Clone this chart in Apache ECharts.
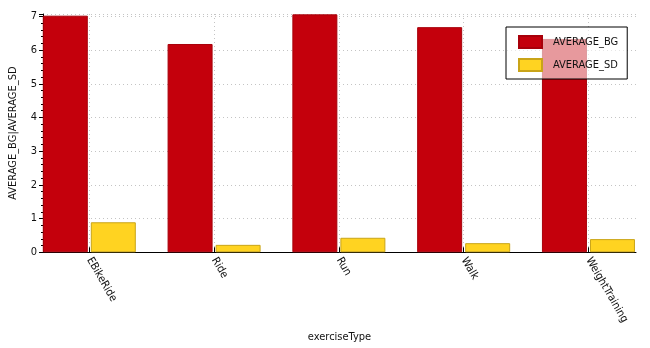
<!DOCTYPE html>
<html>
<head>
<meta charset="utf-8">
<script src="https://cdn.jsdelivr.net/npm/echarts@6/dist/echarts.min.js"></script>
<style>html,body{margin:0;padding:0;background:#fff}#c{width:650px;height:348px}</style>
</head>
<body>
<div id="c"></div>
<script>
const categories = ['EBikeRide', 'Ride', 'Run', 'Walk', 'WeightTraining'];
const averageBG = [7.02, 6.18, 7.06, 6.68, 6.33];
const averageSD = [0.89, 0.22, 0.43, 0.27, 0.39];
const yTicks = [0, 1, 2, 3, 4, 5, 6, 7];

const catPos = categories.map((c, i) => i);
const FONT = 'DejaVu Sans Condensed';
const chart = echarts.init(document.getElementById('c'), null, {renderer: 'canvas'});
chart.setOption({
  animation: false,
  backgroundColor: '#ffffff',
  textStyle: {fontFamily: FONT},
  grid: {left: 41, right: 14, top: 14, bottom: 94, containLabel: false},
  legend: {
    orient: 'vertical', left: 506, top: 27,
    padding: [8, 9, 7, 12], itemGap: 9,
    itemWidth: 23, itemHeight: 12, icon: 'rect',
    backgroundColor: 'rgba(255,255,255,0.6)',
    borderColor: '#000', borderWidth: 1, borderRadius: 0,
    textStyle: {fontFamily: FONT, fontSize: 11, color: '#111', padding: [0, 0, 0, 6]},
    data: ['AVERAGE_BG', 'AVERAGE_SD']
  },
  xAxis: {
    type: 'value', min: -0.371, max: 4.381,
    name: 'exerciseType', nameLocation: 'middle', nameGap: 77,
    nameTextStyle: {fontFamily: FONT, fontSize: 11, color: '#111'},
    axisLine: {show: true, onZero: false, lineStyle: {color: '#000', width: 1}},
    axisTick: {show: true, inside: true, length: 5, customValues: catPos, lineStyle: {color: '#000'}},
    axisLabel: {
      rotate: -60, margin: 6, fontFamily: FONT, fontSize: 11, color: '#111',
      customValues: catPos,
      formatter: function (v) { return categories[Math.round(v)] || ''; }
    },
    splitLine: {show: true, customValues: catPos, lineStyle: {color: '#c4c4c4', type: [1, 3], width: 1}}
  },
  yAxis: {
    type: 'value', min: yTicks[0], max: 7.07, interval: 1,
    name: 'AVERAGE_BG|AVERAGE_SD', nameLocation: 'middle', nameGap: 24, nameRotate: 90,
    nameTextStyle: {fontFamily: FONT, fontSize: 11, color: '#111'},
    axisLine: {show: true, onZero: false, lineStyle: {color: '#000', width: 1}},
    axisTick: {show: true, length: 4, lineStyle: {color: '#000'}},
    minorTick: {show: true, splitNumber: 5, length: 2, lineStyle: {color: '#000'}},
    axisLabel: {margin: 6, fontFamily: FONT, fontSize: 11, color: '#111', customValues: yTicks,
      formatter: function (v) { return String(v); }},
    splitLine: {show: true, customValues: yTicks, lineStyle: {color: '#c4c4c4', type: [1, 3], width: 1}}
  },
  series: [
    {
      name: 'AVERAGE_BG', type: 'bar', barWidth: 45, barGap: '6.7%',
      itemStyle: {color: '#C4000C', borderColor: '#A8000A', borderWidth: 1},
      data: averageBG.map((v, i) => [catPos[i], v])
    },
    {
      name: 'AVERAGE_SD', type: 'bar', barWidth: 45, barGap: '6.7%',
      itemStyle: {color: '#FFD321', borderColor: '#C9A418', borderWidth: 1},
      data: averageSD.map((v, i) => [catPos[i], v])
    }
  ]
});
</script>
</body>
</html>
